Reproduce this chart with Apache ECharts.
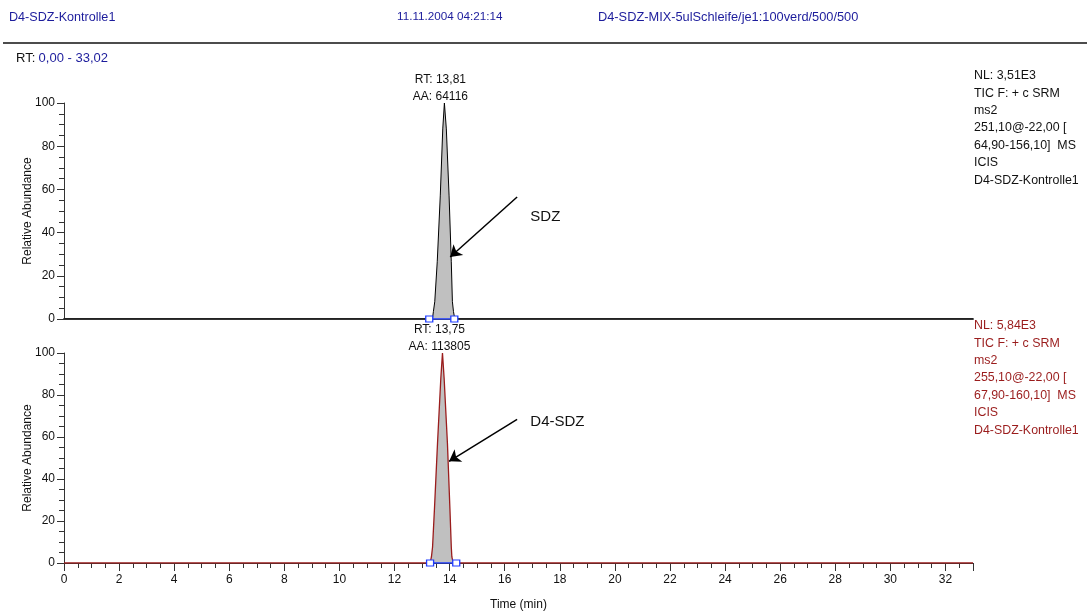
<!DOCTYPE html>
<html>
<head>
<meta charset="utf-8">
<script src="https://cdn.jsdelivr.net/npm/echarts@6/dist/echarts.min.js"></script>
<style>
  html, body { margin: 0; padding: 0; background: #fff; }
  #chart { width: 1087px; height: 612px; }
</style>
</head>
<body>
<div id="chart"></div>
<script>
// Chromatogram traces (retention time in min, relative abundance in %)
const sdzTime  = [0, 13.25, 13.38, 13.41, 13.46, 13.55, 13.66, 13.75, 13.81, 13.88, 13.98, 14.06, 14.10, 14.14, 14.18, 14.28, 33];
const sdzAbund = [0, 0,     0.5,   3.4,   8,     26.5,  57,    88,    100,   88,    57,    26.5,  8,     3.4,   0.5,   0,     0];

const d4Time  = [0, 13.20, 13.30, 13.34, 13.38, 13.45, 13.56, 13.68, 13.74, 13.80, 13.92, 14.01, 14.06, 14.08, 14.12, 14.25, 33];
const d4Abund = [0, 0,     0.5,   3,     7.6,   26,    57,    88,    100,   88,    57,    26,    7.6,   3,     0.5,   0,     0];

// Integration limits (start / end of peak area)
const sdzLimits = [13.26, 14.17];
const d4Limits  = [13.29, 14.24];

// Peak annotations
const sdzRT = '13,81', sdzArea = '64116';
const d4RT  = '13,75', d4Area  = '113805';

// Compound labels and their arrows [time, abundance]
const sdzName = 'SDZ',    sdzNamePos = [16.93, 47.2], sdzArrow = [[16.45, 56.5], [14.02, 28.7]];
const d4Name  = 'D4-SDZ', d4NamePos  = [16.93, 67.4], d4Arrow  = [[16.45, 68.4], [13.98, 48.4]];

// Axis ticks
const timeMin = 0, timeMax = 33, timeStep = 2;
const abundMin = 0, abundMax = 100, abundStep = 20;

// Header / scan filter texts
const headerLeft = 'D4-SDZ-Kontrolle1';
const headerDate = '11.11.2004 04:21:14';
const headerFile = 'D4-SDZ-MIX-5ulSchleife/je1:100verd/500/500';
const rtRange = '0,00 - 33,02';
const sdzInfo = ['NL: 3,51E3', 'TIC F: + c SRM', 'ms2', '251,10@-22,00 [', '64,90-156,10]  MS', 'ICIS', 'D4-SDZ-Kontrolle1'];
const d4Info  = ['NL: 5,84E3', 'TIC F: + c SRM', 'ms2', '255,10@-22,00 [', '67,90-160,10]  MS', 'ICIS', 'D4-SDZ-Kontrolle1'];

const FONT = 'Liberation Sans, Arial, sans-serif';
const BLUE_TXT = '#1c1c9c';
const RED = '#9a1c1c';
const MARK_BLUE = '#1f3cff';

function zip(xs, ys) { return xs.map((x, i) => [x, ys[i]]); }

function apexOf(xs, ys) {
  let iMax = 0;
  ys.forEach((v, i) => { if (v > ys[iMax]) iMax = i; });
  return [xs[iMax], ys[iMax]];
}

function xAxisCfg(gridIndex, showLabels) {
  return {
    type: 'value', gridIndex: gridIndex, min: timeMin, max: timeMax, interval: timeStep,
    name: showLabels ? 'Time (min)' : '',
    nameLocation: 'middle', nameGap: 36,
    nameTextStyle: { fontFamily: FONT, fontSize: 12, color: '#111' },
    axisLine: { show: true, onZero: false, lineStyle: { color: showLabels ? '#333' : '#444', width: showLabels ? 1 : 2 } },
    axisTick: { show: showLabels, length: 8, lineStyle: { color: '#333', width: 1 } },
    minorTick: { show: showLabels, splitNumber: 4, length: 5, lineStyle: { color: '#333', width: 1 } },
    axisLabel: { show: showLabels, margin: 11, showMaxLabel: false, fontFamily: FONT, fontSize: 12, color: '#111' },
    splitLine: { show: false }
  };
}

function yAxisCfg(gridIndex) {
  return {
    type: 'value', gridIndex: gridIndex, min: abundMin, max: abundMax, interval: abundStep,
    name: 'Relative Abundance', nameLocation: 'middle', nameGap: 30, nameMoveOverlap: false,
    nameTextStyle: { fontFamily: FONT, fontSize: 12, color: '#111' },
    axisLine: { show: true, lineStyle: { color: '#333', width: 1 } },
    axisTick: { show: true, length: 7, lineStyle: { color: '#333' } },
    minorTick: { show: true, splitNumber: 4, length: 5, lineStyle: { color: '#333' } },
    axisLabel: { margin: 9, fontFamily: FONT, fontSize: 12, color: '#111' },
    splitLine: { show: false }
  };
}

function arrowLine(arrow) {
  return {
    silent: true, animation: false,
    symbol: ['none', 'arrow'], symbolSize: 11,
    lineStyle: { color: '#000', width: 1.5, type: 'solid' },
    itemStyle: { color: '#000' },
    label: { show: false },
    emphasis: { disabled: true },
    data: [[{ coord: arrow[0] }, { coord: arrow[1] }]]
  };
}

function marks(apex, rt, area, offset, name, namePos) {
  return {
    silent: true, animation: false,
    symbol: 'circle', symbolSize: 0,
    data: [
      {
        coord: apex,
        label: {
          show: true, position: 'top', distance: 2, offset: offset,
          formatter: 'RT: ' + rt + '\nAA: ' + area,
          fontFamily: FONT, fontSize: 12, lineHeight: 17, color: '#111', align: 'center'
        }
      },
      {
        coord: namePos,
        label: { show: true, position: 'right', distance: 0, formatter: name, fontFamily: FONT, fontSize: 15, color: '#111' }
      }
    ]
  };
}

function limitSeries(limits, xi, yi) {
  return {
    type: 'line', xAxisIndex: xi, yAxisIndex: yi,
    data: limits.map(t => [t, 0]),
    symbol: 'rect', symbolSize: [7, 6], showSymbol: true,
    itemStyle: { color: '#fff', borderColor: MARK_BLUE, borderWidth: 1.2 },
    lineStyle: { color: MARK_BLUE, width: 1.5 },
    z: 5, animation: false, silent: true
  };
}

function infoText(lines, top, color) {
  return {
    type: 'text', left: 974, top: top,
    style: { text: lines.join('\n'), fontFamily: FONT, fontSize: 12.4, lineHeight: 17.4, fill: color }
  };
}

const chart = echarts.init(document.getElementById('chart'), null, { renderer: 'canvas' });
chart.setOption({
  animation: false,
  backgroundColor: '#fff',
  grid: [
    { left: 64, width: 909, top: 103, height: 216 },
    { left: 64, width: 909, top: 353, height: 215 }
  ],
  xAxis: [xAxisCfg(0, false), xAxisCfg(1, true)],
  yAxis: [yAxisCfg(0), yAxisCfg(1)],
  graphic: [
    { type: 'text', left: 9, top: 11, style: { text: headerLeft, fontFamily: FONT, fontSize: 12.6, fill: BLUE_TXT } },
    { type: 'text', left: 397, top: 11, style: { text: headerDate, fontFamily: FONT, fontSize: 11.7, fill: BLUE_TXT } },
    { type: 'text', left: 598, top: 11, style: { text: headerFile, fontFamily: FONT, fontSize: 12.8, fill: BLUE_TXT } },
    { type: 'line', shape: { x1: 3, y1: 43, x2: 1087, y2: 43 }, style: { stroke: '#111', lineWidth: 1.5 } },
    { type: 'text', left: 16, top: 52, style: {
        text: '{k|RT:} {v|' + rtRange + '}',
        rich: { k: { fontFamily: FONT, fontSize: 13, fill: '#111' }, v: { fontFamily: FONT, fontSize: 13, fill: BLUE_TXT } }
    } },
    infoText(sdzInfo, 67, '#111'),
    infoText(d4Info, 317, RED)
  ],
  series: [
    {
      name: sdzName, type: 'line', xAxisIndex: 0, yAxisIndex: 0,
      data: zip(sdzTime, sdzAbund),
      showSymbol: false, symbol: 'none',
      lineStyle: { color: '#000', width: 1 },
      areaStyle: { color: '#c0c0c0', opacity: 1 },
      z: 3,
      markLine: arrowLine(sdzArrow),
      markPoint: marks(apexOf(sdzTime, sdzAbund), sdzRT, sdzArea, [-4, 4], sdzName, sdzNamePos)
    },
    limitSeries(sdzLimits, 0, 0),
    {
      name: d4Name, type: 'line', xAxisIndex: 1, yAxisIndex: 1,
      data: zip(d4Time, d4Abund),
      showSymbol: false, symbol: 'none',
      lineStyle: { color: RED, width: 1.3 },
      areaStyle: { color: '#c0c0c0', opacity: 1 },
      z: 3,
      markLine: arrowLine(d4Arrow),
      markPoint: marks(apexOf(d4Time, d4Abund), d4RT, d4Area, [-3, 4], d4Name, d4NamePos)
    },
    limitSeries(d4Limits, 1, 1)
  ]
});
</script>
</body>
</html>
